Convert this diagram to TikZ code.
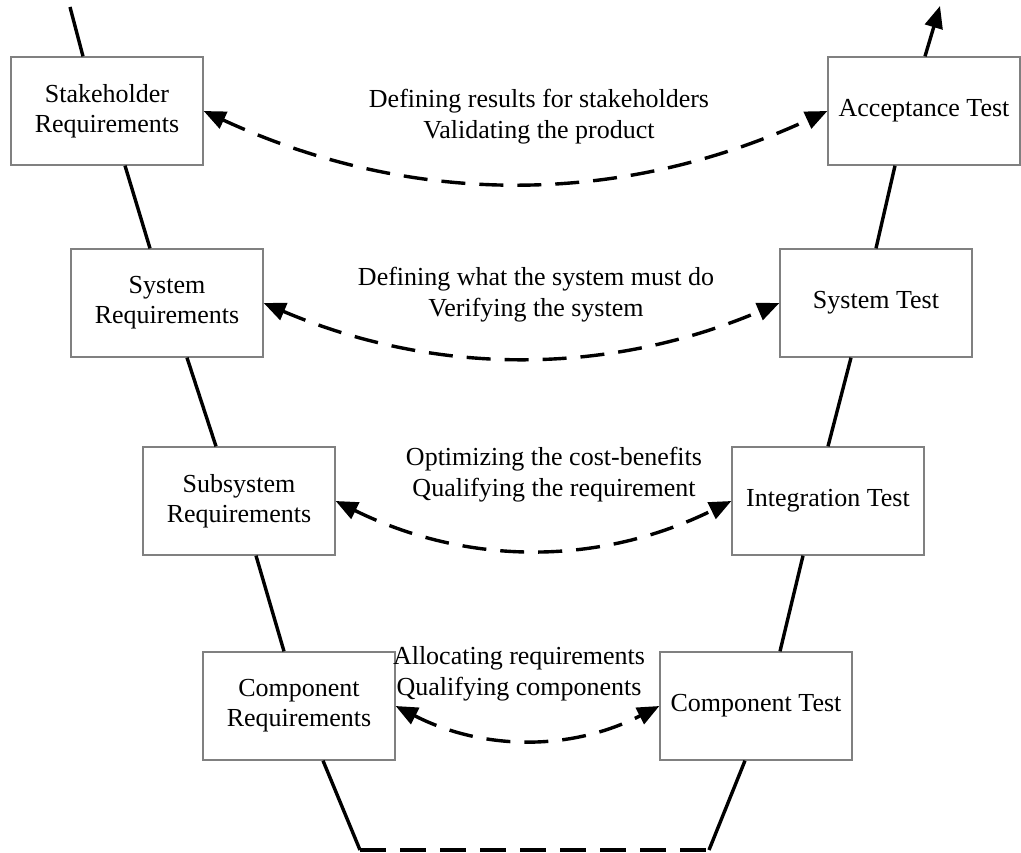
\documentclass[tikz,border=0pt]{standalone}
\usepackage{fontspec}
\setmainfont{Liberation Serif}
\usetikzlibrary{arrows.meta}
\begin{document}
\begin{tikzpicture}[x=1pt,y=-1pt,
  box/.style={draw=black!50, line width=1.3pt, minimum width=192pt, minimum height=108pt,
    align=center, inner sep=0pt, font=\fontsize{26}{30}\selectfont},
  lbl/.style={align=center, inner sep=0pt, font=\fontsize{26}{31}\selectfont},
  vline/.style={line width=3.4pt},
  link/.style={line width=3.4pt, dash pattern=on 24pt off 14pt,
    {Triangle[length=22pt,width=18pt]}-{Triangle[length=22pt,width=18pt]}},
  baseline dash/.style={line width=3.4pt, dash pattern=on 26pt off 14pt},
]
\useasboundingbox (0,0) rectangle (1021,853);

% left leg of the V
\node[box] (sr)   at (107,111) {Stakeholder\\Requirements};
\node[box] (sysr) at (167,303) {System\\Requirements};
\node[box] (subr) at (239,501) {Subsystem\\Requirements};
\node[box] (cr)   at (299,706) {Component\\Requirements};

% right leg of the V
\node[box] (at)   at (924,111) {Acceptance Test};
\node[box] (syst) at (876,303) {System Test};
\node[box] (it)   at (828,501) {Integration Test};
\node[box] (ct)   at (756,706) {Component Test};

% free ends
\coordinate (top-in)  at (70,7);
\coordinate (top-out) at (940,6);
\coordinate (bl) at (360,850);
\coordinate (br) at (709,850);

% solid legs
\draw[vline] (top-in) -- ([xshift=-24pt]sr.north);
\draw[vline] ([xshift=18pt]sr.south) -- ([xshift=-17pt]sysr.north);
\draw[vline] ([xshift=20pt]sysr.south) -- ([xshift=-23pt]subr.north);
\draw[vline] ([xshift=17pt]subr.south) -- ([xshift=-15pt]cr.north);
\draw[vline] ([xshift=24pt]cr.south) -- (bl);
\draw[baseline dash] (bl) -- (br);
\draw[vline] (br) -- ([xshift=-11pt]ct.south);
\draw[vline] ([xshift=24pt]ct.north) -- ([xshift=-25pt]it.south);
\draw[vline] (it.north) -- ([xshift=-25pt]syst.south);
\draw[vline] (syst.north) -- ([xshift=-29pt]at.south);
\draw[vline, -{Triangle[length=22pt,width=18pt]}] ([xshift=1pt]at.north) -- (top-out);

% links between the two legs
\draw[link] (sr.east)   .. controls +(208,96) and +(-208,96) .. (at.west);
\draw[link] (sysr.east) .. controls +(172,73) and +(-172,73) .. (syst.west);
\draw[link] (subr.east) .. controls +(132,65) and +(-132,65) .. (it.west);
\draw[link] (cr.east)   .. controls +(88,45)  and +(-88,45)  .. (ct.west);

% link labels
\node[lbl] (l1) at (539,117) {Defining results for stakeholders\\Validating the product};
\node[lbl] (l2) at (536,295) {Defining what the system must do\\Verifying the system};
\node[lbl] (l3) at (554,475) {Optimizing the cost-benefits\\Qualifying the requirement};
\node[lbl] (l4) at (519,674) {Allocating requirements\\Qualifying components};
\end{tikzpicture}
\end{document}
